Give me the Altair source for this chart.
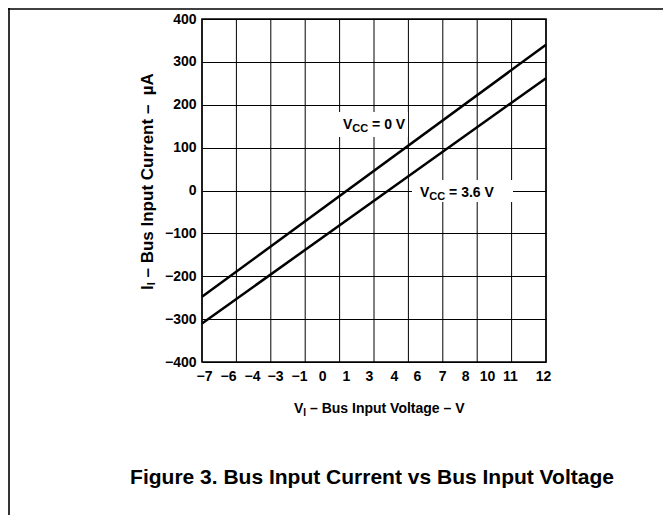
import json
import altair as alt
import pandas as pd

# ---- data ----
v_in = [-7, 12]                      # bus input voltage, V
i_vcc0 = [-248, 340]                 # µA, VCC = 0 V
i_vcc36 = [-310, 262]                # µA, VCC = 3.6 V

x_tick_labels = ["−7", "−6", "−4", "−3", "−1", "0", "1", "3", "4", "6", "7", "8", "10", "11", "12"]
x_tick_values = [-6.89, -5.56, -4.24, -2.97, -1.64, -0.37, 0.95, 2.22, 3.60, 4.87, 6.26, 7.53, 8.74, 10.01, 11.83]
x_grid = [-7, -5.1, -3.2, -1.3, 0.6, 2.5, 4.4, 6.3, 8.2, 10.1, 12]
y_ticks = [-400, -300, -200, -100, 0, 100, 200, 300, 400]

FONT = "Liberation Sans"

df_lines = pd.DataFrame({
    "V": v_in + v_in,
    "I": i_vcc0 + i_vcc36,
    "series": ["VCC = 0 V"] * len(v_in) + ["VCC = 3.6 V"] * len(v_in),
})
df_grid = pd.DataFrame({"g": x_grid})

label_expr = f"{json.dumps(x_tick_labels, ensure_ascii=False)}[indexof({json.dumps(x_tick_values)}, datum.value)]"

xscale = alt.Scale(domain=[-7, 12], nice=False, zero=False)
yscale = alt.Scale(domain=[-400, 400], nice=False, zero=False)

x_axis = alt.Axis(values=x_tick_values, labelExpr=label_expr, title=None, grid=False,
                  domain=False, ticks=False, labelPadding=7, labelFontSize=14,
                  labelFont=FONT, labelFontWeight="bold", labelColor="black",
                  labelOverlap=False, labelFlush=False)
y_axis = alt.Axis(values=y_ticks, labelExpr="replace(format(datum.value, 'd'), '-', '−')",
                  title=None, grid=True, gridColor="black", gridWidth=1, gridOpacity=1,
                  domain=False, ticks=False, labelPadding=6, labelFontSize=14,
                  labelFont=FONT, labelFontWeight="bold", labelColor="black",
                  labelOverlap=False)

grid = alt.Chart(df_grid).mark_rule(color="black", strokeWidth=1).encode(
    x=alt.X("g:Q", scale=xscale, axis=x_axis)
)


def box(x1, x2, y1, y2):
    return alt.Chart(pd.DataFrame({"a": [0]})).mark_rect(color="white").encode(
        x=alt.value(x1), x2=alt.value(x2), y=alt.value(y1), y2=alt.value(y2)
    )


lines = alt.Chart(df_lines).mark_line(color="black", strokeWidth=2.5).encode(
    x=alt.X("V:Q", scale=xscale, axis=x_axis),
    y=alt.Y("I:Q", scale=yscale, axis=y_axis),
    detail="series:N",
)


def txt(text, x, y, size, angle=0, align="left", baseline="alphabetic"):
    kw = dict(align=align, baseline=baseline, font=FONT, fontWeight="bold",
              fontSize=size, color="black")
    if angle:
        kw["angle"] = angle
    return alt.Chart(pd.DataFrame({"t": [text]})).mark_text(**kw).encode(
        x=alt.value(x), y=alt.value(y), text="t:N"
    )


def hrule(x1, x2, y):
    return alt.Chart(pd.DataFrame({"a": [0]})).mark_rule(color="black", strokeWidth=1.6).encode(
        x=alt.value(x1), x2=alt.value(x2), y=alt.value(y)
    )


def vrule(x, y1, y2):
    return alt.Chart(pd.DataFrame({"a": [0]})).mark_rule(color="black", strokeWidth=1.6).encode(
        x=alt.value(x), y=alt.value(y1), y2=alt.value(y2)
    )


layers = [
    grid,
    box(134, 206, 93, 118),
    box(210, 311, 161, 183),
    lines,
    # annotation VCC = 0 V
    txt("V", 141, 110, 14),
    txt("CC", 150.3, 113, 11),
    txt("= 0 V", 170.1, 110, 14),
    # annotation VCC = 3.6 V
    txt("V", 218, 177.5, 14),
    txt("CC", 227.3, 180.5, 11),
    txt("= 3.6 V", 247.1, 177.5, 14),
    # x title
    txt("V", 92, 394, 14),
    txt("I", 101.3, 397, 10),
    txt("– Bus Input Voltage – V", 108, 394, 14),
    # y title (rotated)
    txt("I", -49, 271, 17, angle=270),
    txt("I", -47, 266.3, 11, angle=270),
    txt("– Bus Input Current –\u00a0\u00a0µA", -49, 258.5, 17, angle=270),
    # caption
    txt("Figure 3. Bus Input Current vs Bus Input Voltage", 170, 465, 21, align="center"),
    # page frame
    vrule(-193, -11, 496),
    hrule(-194, 461, -10),
]

chart = alt.layer(*layers).properties(
    width=344,
    height=343,
    autosize="none",
    padding={"left": 194, "top": 11, "right": 117, "bottom": 153},
    background="white",
).configure_view(stroke="black", strokeWidth=1.5)

chart.save("out.html", embed_options={"renderer": "svg", "actions": False})
